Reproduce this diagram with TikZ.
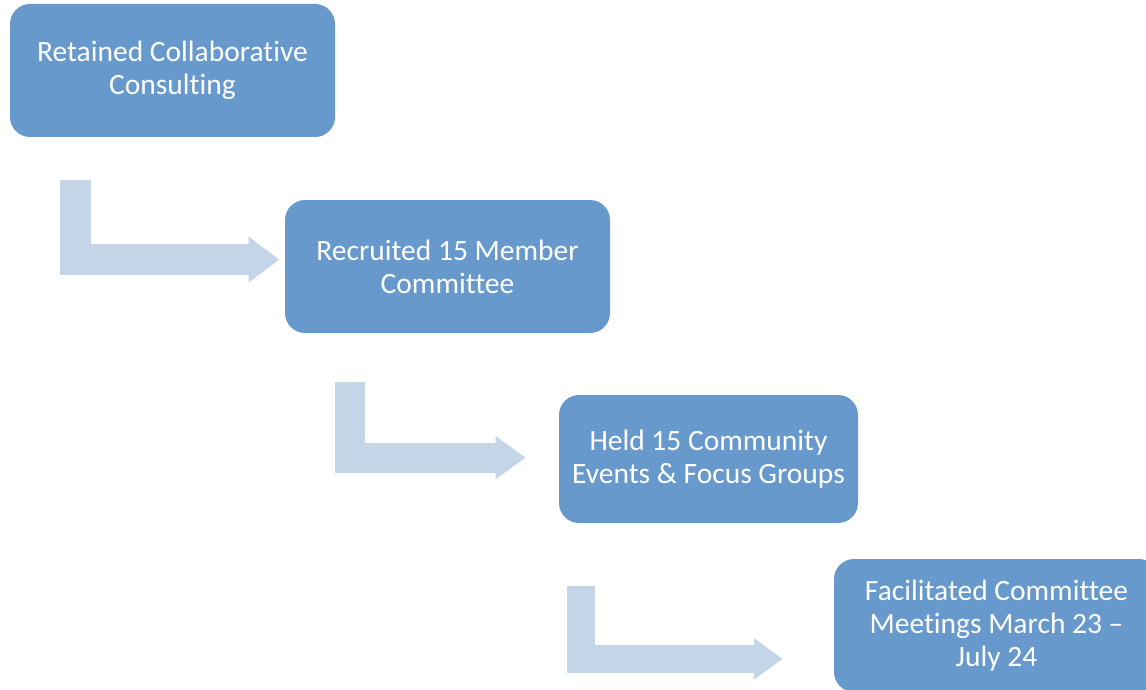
\documentclass[tikz,border=0pt]{standalone}
\usepackage{fontspec}
\setmainfont[Ligatures={NoCommon}]{Carlito}
\usetikzlibrary{positioning,arrows.meta}
\definecolor{stepblue}{RGB}{103,153,204}
\definecolor{flowblue}{RGB}{197,213,232}
\tikzset{
  stepbox/.style = {rectangle, rounded corners = 20pt, fill = stepblue, text = white,
    minimum width = 325pt, minimum height = 133pt, inner sep = 0pt, align = center,
    font = \fontsize{29.5pt}{33pt}\selectfont},
  flow/.style = {draw = flowblue, line width = #1, line join = miter,
    -{Triangle[length = 31pt, width = 44pt]}},
  flow/.default = 30pt
}
\begin{document}
\begin{tikzpicture}[x = 1pt, y = -1pt, on grid]
	\path[use as bounding box, clip] (0,0) rectangle (1146,690);
	\node[stepbox] (b1) at (172.5,70.5) {Retained Collaborative\\ Consulting};
	\node[stepbox] (b2) [below right = 196pt and 275pt of b1] {Recruited 15 Member\\ Committee};
	\node[stepbox, minimum width = 299pt, minimum height = 128pt] (b3) [below right = 192.5pt and 261pt of b2] {Held 15 Community\\ Events \& Focus Groups};
	\node[stepbox] (b4) [below right = 166.5pt and 288pt of b3] {Facilitated Committee\\ Meetings March 23 --\\ July 24};
	% bent arrows between the steps
	\coordinate (s1) at (75,180);   \coordinate (e1) at (279.5,259.6);
	\coordinate (s2) at (349.5,382); \coordinate (e2) at (525.7,457.7);
	\coordinate (s3) at (580.5,585.7); \coordinate (e3) at (782.7,658.9);
	\draw[flow = 31pt] (s1) |- (e1);
	\draw[flow = 30pt, -{Triangle[length = 30pt, width = 41pt]}] (s2) |- (e2);
	\draw[flow = 28pt, -{Triangle[length = 28.5pt, width = 39pt]}] (s3) |- (e3);
\end{tikzpicture}
\end{document}
